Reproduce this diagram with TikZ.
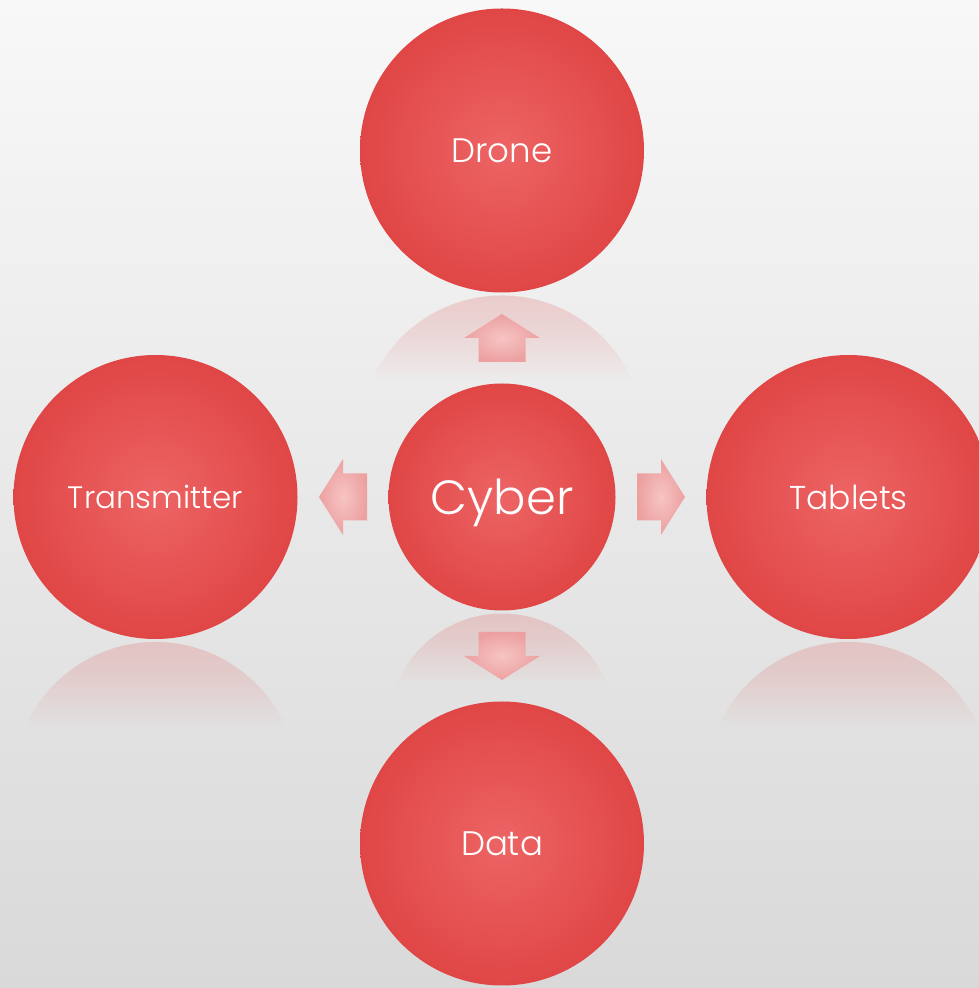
\documentclass[tikz,border=0pt]{standalone}
\usepackage{xcolor}
\usepackage{fontspec}
\setmainfont{Poppins}[UprightFont={* Light}]
\usetikzlibrary{positioning, calc}

\definecolor{ballin}{RGB}{237,100,100}
\definecolor{ballout}{RGB}{224,70,70}
\definecolor{arrin}{RGB}{247,196,196}
\definecolor{arrout}{RGB}{236,160,160}
\definecolor{bgtop}{RGB}{248,248,248}
\definecolor{bgbot}{RGB}{217,217,217}

\begin{document}
\begin{tikzpicture}[x=1pt, y=1pt,
  node distance=91pt,
  ball/.style={circle, inner sep=0pt, outer sep=0pt, minimum size=284pt,
    shading=radial, inner color=ballin, outer color=ballout, text depth=0pt,
    text=white, font=\fontsize{34}{40}\selectfont},
  small/.style={minimum size=227pt, font=\fontsize{48}{56}\selectfont},
  fatarr/.style={shading=radial, inner color=arrin, outer color=arrout},
  refl/.style={top color=rtop, bottom color=rbot, middle color=rtop!62!rbot}
]
\useasboundingbox (0,0) rectangle (979,988);
\clip (0,0) rectangle (979,988);
\shade[top color=bgtop, bottom color=bgbot] (0,0) rectangle (979,988);

% the five balls
\node[ball, small] (cyber) at (502,491) {Cyber};
\node[ball, above=of cyber] (drone) {Drone};
\node[ball, left=of cyber, font=\fontsize{31}{36}\selectfont] (transm) {Transmitter};
\node[ball, right=of cyber, font=\fontsize{33}{38}\selectfont] (tablets) {Tablets};
\node[ball, below=of cyber] (data) {Data};

% mirror images under the balls (fading into the background)
\foreach \n/\r/\h/\ft/\fb in {drone/142/86/30/39, transm/142/86/65/74,
    tablets/142/86/65/74, cyber/113.5/72/62/69} {
  \colorlet{bgmid}{bgbot!\ft!bgtop}
  \colorlet{rtop}{ballout!24!bgmid}
  \colorlet{rbot}{bgbot!\fb!bgtop}
  \pgfmathsetmacro\a{asin((\r-\h)/\r)}
  \shade[refl] ($(\n.south)+(0,-3-\r)+(\a:\r)$) arc[start angle=\a, end angle=180-\a, radius=\r] -- cycle;
}

% block arrows
\coordinate (upmid) at ($(cyber.north)!0.5!(drone.south)$);
\coordinate (leftmid) at ($(cyber.west)!0.5!(transm.east)$);
\coordinate (rightmid) at ($(cyber.east)!0.5!(tablets.west)$);
\coordinate (downmid) at ($(cyber.south)!0.5!(data.north)$);
\foreach \m/\a in {upmid/90, leftmid/180, rightmid/0, downmid/270}
  \shade[fatarr, shift={(\m)}, rotate=\a] (-24,-23.5) -- (0,-23.5) -- (0,-38) -- (24,0)
    -- (0,38) -- (0,23.5) -- (-24,23.5) -- cycle;
\end{tikzpicture}
\end{document}
